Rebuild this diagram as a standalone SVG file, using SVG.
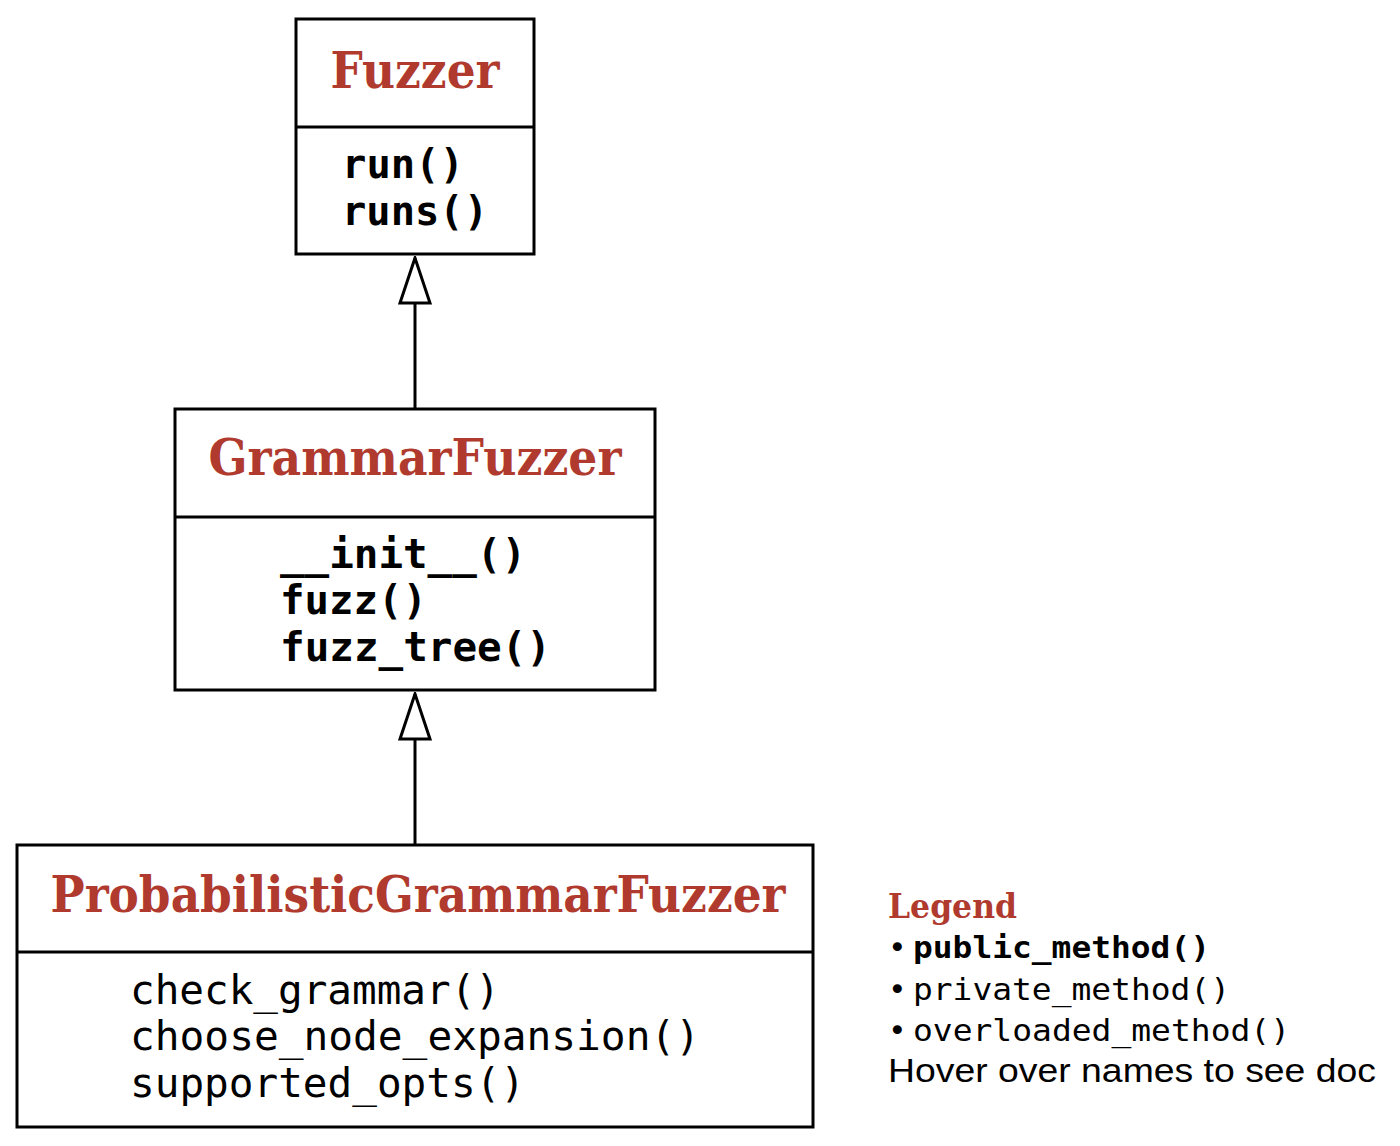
<svg xmlns="http://www.w3.org/2000/svg" width="1400" height="1146" viewBox="0 0 1400 1146">
<style>
.box{fill:#fff;stroke:#000;stroke-width:3}
.title{font-family:"DejaVu Serif",serif;font-weight:bold;fill:#B03A2E;font-size:50px}
.pub{font-family:"DejaVu Sans Mono",monospace;font-weight:bold;font-size:40px;fill:#000}
.priv{font-family:"DejaVu Sans Mono",monospace;font-size:40px;fill:#000}
.edge{stroke:#000;stroke-width:3;fill:none}
.lg{font-family:"DejaVu Sans Mono",monospace;font-size:31px;fill:#000}
</style>
<defs>
<marker id="inh" markerWidth="50" markerHeight="34" refX="48" refY="17" orient="auto" markerUnits="userSpaceOnUse" viewBox="0 0 50 34">
<path d="M48,17 L3,2 L3,32 Z" fill="#fff" stroke="#000" stroke-width="3"/>
</marker>
</defs>
<rect width="1400" height="1146" fill="#fff"/>
<g id="connectors">
<line class="edge" x1="415" y1="408" x2="415" y2="258" marker-end="url(#inh)"/>
<line class="edge" x1="415" y1="844" x2="415" y2="694" marker-end="url(#inh)"/>
</g>
<g id="Fuzzer">
<rect class="box" x="296" y="19" width="238" height="235"/>
<line class="edge" x1="296" y1="127" x2="534" y2="127"/>
<text class="title" x="415" y="88" text-anchor="middle" textLength="169" lengthAdjust="spacingAndGlyphs">Fuzzer</text>
<text class="pub" x="342" y="178" textLength="122" lengthAdjust="spacingAndGlyphs">run()</text>
<text class="pub" x="342" y="225" textLength="146" lengthAdjust="spacingAndGlyphs">runs()</text>
</g>
<g id="GrammarFuzzer">
<rect class="box" x="175" y="409" width="480" height="281"/>
<line class="edge" x1="175" y1="517" x2="655" y2="517"/>
<text class="title" x="415" y="475" text-anchor="middle" textLength="413" lengthAdjust="spacingAndGlyphs">GrammarFuzzer</text>
<text class="pub" x="280" y="568" textLength="246" lengthAdjust="spacingAndGlyphs">__init__()</text>
<text class="pub" x="280" y="614" textLength="147" lengthAdjust="spacingAndGlyphs">fuzz()</text>
<text class="pub" x="280" y="661" textLength="271" lengthAdjust="spacingAndGlyphs">fuzz_tree()</text>
</g>
<g id="ProbabilisticGrammarFuzzer">
<rect class="box" x="17" y="845" width="796" height="282"/>
<line class="edge" x1="17" y1="952" x2="813" y2="952"/>
<text class="title" x="418" y="912" text-anchor="middle" textLength="735" lengthAdjust="spacingAndGlyphs">ProbabilisticGrammarFuzzer</text>
<text class="priv" x="130" y="1004" textLength="370" lengthAdjust="spacingAndGlyphs">check_grammar()</text>
<text class="priv" x="130" y="1050" textLength="570" lengthAdjust="spacingAndGlyphs">choose_node_expansion()</text>
<text class="priv" x="130" y="1097" textLength="395" lengthAdjust="spacingAndGlyphs">supported_opts()</text>
</g>
<g id="legend">
<text x="888" y="918" font-family="DejaVu Serif,serif" font-weight="bold" font-size="34" fill="#B03A2E" textLength="129" lengthAdjust="spacingAndGlyphs">Legend</text>
<text class="lg" x="888" y="958">•</text>
<text class="lg" x="913" y="958" font-weight="bold" textLength="297" lengthAdjust="spacingAndGlyphs">public_method()</text>
<text class="lg" x="888" y="1000">•</text>
<text class="lg" x="913" y="1000" textLength="317" lengthAdjust="spacingAndGlyphs">private_method()</text>
<text class="lg" x="888" y="1041">•</text>
<text class="lg" x="913" y="1041" textLength="377" lengthAdjust="spacingAndGlyphs">overloaded_method()</text>
<text x="888" y="1082" font-family="Liberation Sans,Arial,sans-serif" font-size="34" fill="#000" textLength="488" lengthAdjust="spacingAndGlyphs">Hover over names to see doc</text>
</g>
</svg>
